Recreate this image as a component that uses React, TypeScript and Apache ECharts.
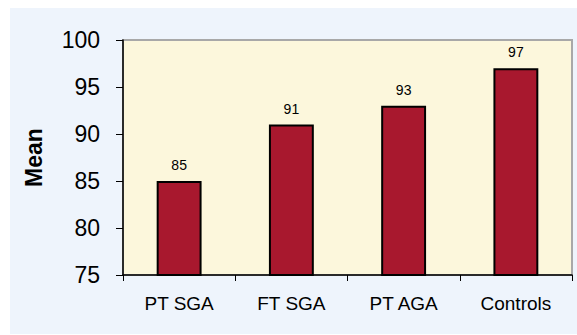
import React, { useEffect, useRef } from "react";
import * as echarts from "echarts";

const categories = ["PT SGA", "FT SGA", "PT AGA", "Controls"];
const values = [85, 91, 93, 97];
const yMin = 75;
const yMax = 100;
const yStep = 5;

export default function App() {
  const ref = useRef<HTMLDivElement>(null);
  useEffect(() => {
    if (!ref.current) return;
    const chart = echarts.init(ref.current, null, { renderer: "svg" });
    chart.setOption({
      animation: false,
      textStyle: { fontFamily: "Liberation Sans, Arial, sans-serif" },
      graphic: [
        {
          type: "rect",
          z: -10,
          silent: true,
          shape: { x: 10, y: 8, width: 567, height: 326 },
          style: { fill: "#eef4fc" },
        },
      ],
      grid: {
        left: 123,
        top: 40,
        right: 5,
        bottom: 60,
        show: true,
        backgroundColor: "#fcf7dc",
        borderColor: "#a8a8a8",
        borderWidth: 2,
      },
      xAxis: {
        type: "category",
        data: categories,
        axisLine: { lineStyle: { color: "#000", width: 1.5 } },
        axisTick: { show: true, length: 6, lineStyle: { color: "#000" } },
        axisLabel: { color: "#000", fontSize: 19, margin: 19 },
      },
      yAxis: {
        type: "value",
        min: yMin,
        max: yMax,
        interval: yStep,
        name: "Mean",
        nameLocation: "middle",
        nameGap: 78,
        nameTextStyle: { color: "#000", fontSize: 23, fontWeight: "bold" },
        axisLine: { show: true, lineStyle: { color: "#000", width: 1.5 } },
        axisTick: { show: true, length: 7, lineStyle: { color: "#000" } },
        axisLabel: { color: "#000", fontSize: 23, margin: 23 },
        splitLine: { show: false },
      },
      series: [
        {
          type: "bar",
          data: values,
          barWidth: "40%",
          itemStyle: { color: "#a8182e", borderColor: "#000", borderWidth: 2 },
          label: {
            show: true,
            position: "top",
            distance: 9,
            color: "#000",
            fontSize: 14,
          },
        },
      ],
    });
    return () => chart.dispose();
  }, []);
  return (
    <div
      ref={ref}
      style={{ position: "fixed", left: 0, top: 0, width: 577, height: 335, background: "#fff" }}
    />
  );
}
